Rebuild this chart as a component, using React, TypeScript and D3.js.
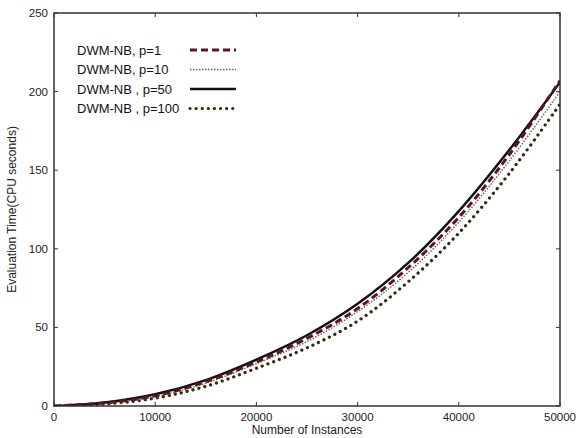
import React from "react";
import * as d3 from "d3";

const xValues = [0, 5000, 10000, 15000, 20000, 25000, 30000, 35000, 40000, 45000, 50000];
const p1 = [0, 2, 6.5, 15.5, 28, 43, 62, 88, 120, 160, 207];
const p10 = [0, 1.8, 6, 14.5, 27, 41, 60, 85, 117, 156, 200];
const p50 = [0, 2.3, 7.5, 16.5, 29.5, 45, 65, 91, 124, 163, 206];
const p100 = [0, 1.2, 5, 12.5, 24, 37, 54, 79, 110, 148, 192];
const seriesNames = ["DWM-NB, p=1", "DWM-NB, p=10", "DWM-NB , p=50", "DWM-NB , p=100"];
const xTicks = [0, 10000, 20000, 30000, 40000, 50000];
const yTicks = [0, 50, 100, 150, 200, 250];

const styles = [
  { stroke: "#5c1422", width: 3, dash: "7,4", cap: "butt" },
  { stroke: "#666", width: 1.5, dash: "1.5,1.5", cap: "butt" },
  { stroke: "#111", width: 2.5, dash: "", cap: "butt" },
  { stroke: "#2e2e08", width: 3.2, dash: "0.1,6", cap: "round" },
];

export default function App() {
  const W = 579, H = 438;
  const m = { l: 54, r: 560, t: 13, b: 406 };
  const x = d3.scaleLinear().domain([0, 50000]).range([m.l, m.r]);
  const y = d3.scaleLinear().domain([0, 250]).range([m.b, m.t]);
  const all = [p1, p10, p50, p100];
  const line = d3
    .line<number>()
    .x((_, i) => x(xValues[i]))
    .y((d) => y(d))
    .curve(d3.curveCatmullRom.alpha(0.5));
  const font = "'Liberation Sans', Arial, sans-serif";
  return (
    <svg width={W} height={H} style={{ position: "absolute", left: 0, top: 0, background: "#fff" }}>
      <rect width={W} height={H} fill="#fff" />
      <defs>
        <clipPath id="clip">
          <rect x={m.l} y={m.t} width={m.r - m.l} height={m.b - m.t} />
        </clipPath>
      </defs>
      <g clipPath="url(#clip)">
        {[3, 1, 2, 0].map((k) => (
          <path
            key={k}
            d={line(all[k]) || ""}
            fill="none"
            stroke={styles[k].stroke}
            strokeWidth={styles[k].width}
            strokeDasharray={styles[k].dash || undefined}
            strokeLinecap={styles[k].cap as any}
          />
        ))}
      </g>
      <rect x={m.l} y={m.t} width={m.r - m.l} height={m.b - m.t} fill="none" stroke="#333" strokeWidth={1.5} />
      {xTicks.map((t) => (
        <g key={"x" + t}>
          <line x1={x(t)} x2={x(t)} y1={m.b} y2={m.b - 4} stroke="#333" />
          <line x1={x(t)} x2={x(t)} y1={m.t} y2={m.t + 4} stroke="#333" />
          <text x={x(t)} y={m.b + 15} textAnchor="middle" fontSize={11.5} fontFamily={font} fill="#222">
            {t}
          </text>
        </g>
      ))}
      {yTicks.map((t) => (
        <g key={"y" + t}>
          <line x1={m.l} x2={m.l + 4} y1={y(t)} y2={y(t)} stroke="#333" />
          <line x1={m.r} x2={m.r - 4} y1={y(t)} y2={y(t)} stroke="#333" />
          <text x={m.l - 6} y={y(t) + 4} textAnchor="end" fontSize={11.5} fontFamily={font} fill="#222">
            {t}
          </text>
        </g>
      ))}
      <text x={(m.l + m.r) / 2} y={434} textAnchor="middle" fontSize={12} fontFamily={font} fill="#222">
        Number of Instances
      </text>
      <text
        transform={`translate(16, ${(m.t + m.b) / 2}) rotate(-90)`}
        textAnchor="middle"
        fontSize={12}
        fontFamily={font}
        fill="#222"
      >
        Evaluation Time(CPU seconds)
      </text>
      {seriesNames.map((n, i) => {
        const ly = 50 + i * 19.5;
        return (
          <g key={n}>
            <text x={77} y={ly + 4.5} fontSize={13} fontFamily={font} fill="#111">
              {n}
            </text>
            <line
              x1={190}
              x2={236}
              y1={ly}
              y2={ly}
              stroke={styles[i].stroke}
              strokeWidth={styles[i].width}
              strokeDasharray={styles[i].dash || undefined}
              strokeLinecap={styles[i].cap as any}
            />
          </g>
        );
      })}
    </svg>
  );
}
